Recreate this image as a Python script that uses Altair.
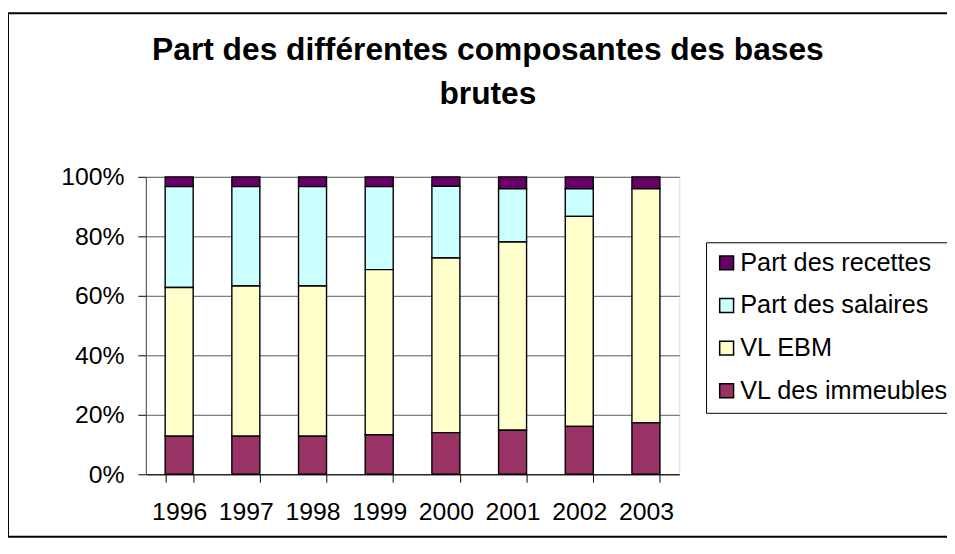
import altair as alt
import pandas as pd

years = ["1996", "1997", "1998", "1999", "2000", "2001", "2002", "2003"]
series = ["Part des recettes", "Part des salaires", "VL EBM", "VL des immeubles"]
recettes = [3.3, 3.3, 3.3, 3.3, 3.2, 4.0, 4.0, 4.0]
salaires = [33.9, 33.4, 33.4, 27.9, 24.1, 17.9, 9.3, 0.0]
ebm = [50.0, 50.5, 50.5, 55.5, 58.7, 63.3, 70.6, 78.7]
immeubles = [12.8, 12.8, 12.8, 13.3, 14.0, 14.8, 16.1, 17.3]
colors = ["#660066", "#CCFFFF", "#FFFFCC", "#993366"]
y_ticks = [0, 0.2, 0.4, 0.6, 0.8, 1.0]

values_by_series = [recettes, salaires, ebm, immeubles]
rows = []
for s_idx, (name, vals) in enumerate(zip(series, values_by_series)):
    for yr, v in zip(years, vals):
        rows.append({"annee": yr, "serie": name, "valeur": v,
                     "ordre": len(series) - s_idx})
df = pd.DataFrame(rows)

FONT = "Liberation Sans"

bars = alt.Chart(df).mark_bar(stroke="black", strokeWidth=1.4).encode(
    x=alt.X("annee:N", sort=years,
            scale=alt.Scale(paddingInner=0.58, paddingOuter=0.29),
            axis=alt.Axis(title=None, labelAngle=0, tickBand="extent",
                          tickSize=8, tickColor="black", domainColor="black",
                          labelFont=FONT, labelFontSize=25, labelColor="black",
                          labelPadding=18, grid=False)),
    y=alt.Y("valeur:Q", stack="normalize",
            scale=alt.Scale(domain=[0, 1], nice=False),
            axis=alt.Axis(title=None, values=y_ticks, format=".0%",
                          tickSize=8, tickColor="black", domainColor="#444",
                          labelFont=FONT, labelFontSize=25, labelColor="black",
                          labelPadding=14, grid=True, gridColor="#5a5a5a",
                          gridWidth=1)),
    color=alt.Color("serie:N",
                    scale=alt.Scale(domain=series, range=colors),
                    legend=alt.Legend(title=None, orient="none",
                                      legendX=565, legendY=66,
                                      labelFont=FONT, labelFontSize=25.5,
                                      labelColor="black", labelLimit=400,
                                      symbolType="square", symbolSize=196,
                                      symbolStrokeColor="black",
                                      symbolStrokeWidth=1.5,
                                      strokeColor="black", fillColor="white",
                                      padding=8, rowPadding=16,
                                      labelOffset=1)),
    order=alt.Order("ordre:Q", sort="ascending"),
)

frame_data = alt.Data(values=[{"k": 1}])
frame_top = alt.Chart(frame_data).mark_rule(color="black", strokeWidth=2).encode(
    x=alt.value(-139), x2=alt.value(1000), y=alt.value(-165))
frame_bottom = alt.Chart(frame_data).mark_rule(color="black", strokeWidth=2).encode(
    x=alt.value(-139), x2=alt.value(1000), y=alt.value(363))
frame_left = alt.Chart(frame_data).mark_rule(color="black", strokeWidth=2).encode(
    x=alt.value(-139), y=alt.value(-165), y2=alt.value(363))

chart = alt.layer(bars, frame_top, frame_bottom, frame_left).properties(
    width=538, height=300,
    padding={"left": 139, "top": 168, "right": 270, "bottom": 64},
    autosize="none",
    title=alt.TitleParams(
        text=["Part des différentes composantes des bases", "brutes"],
        font=FONT, fontSize=32, fontWeight="bold", color="black",
        lineHeight=45, anchor="middle", dx=76, offset=-100,
    ),
).configure_view(
    fill="#C0C0C0", stroke="#808080", strokeWidth=1
).configure(background="white")

chart.save("out.html", embed_options={"renderer": "svg", "actions": False})
